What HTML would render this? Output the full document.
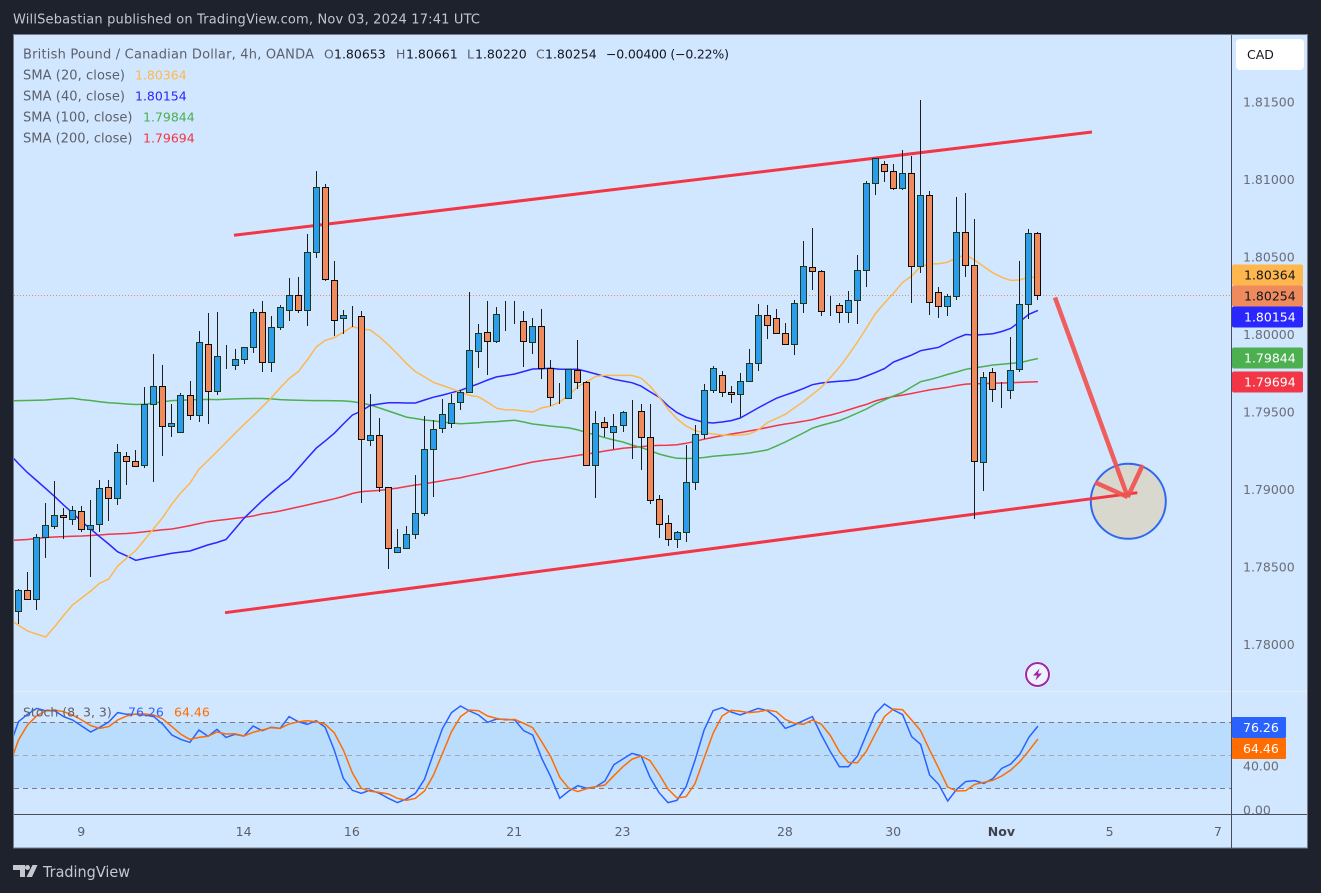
<!DOCTYPE html>
<html lang="en">
<head>
<meta charset="utf-8">
<title>GBP/CAD 4h chart</title>
<style>
html,body{margin:0;padding:0;background:#1e222d;width:1321px;height:893px;overflow:hidden}
svg{display:block}
text{font-family:"DejaVu Sans","Liberation Sans",sans-serif;font-size:12.5px}
</style>
</head>
<body>
<svg id="chart" xmlns="http://www.w3.org/2000/svg" width="1321" height="893" viewBox="0 0 1321 893">
  <defs>
    <clipPath id="price-clip"><rect x="14" y="36" width="1217" height="655"/></clipPath>
    <clipPath id="stoch-clip"><rect x="14" y="692" width="1217" height="122"/></clipPath>
    <clipPath id="scale-clip"><rect x="1232" y="692" width="76" height="122"/></clipPath>
  </defs>
  <rect x="0" y="0" width="1321" height="893" fill="#1e222d"/>
  <text x="13" y="23.5" fill="#c3c6cf" textLength="467" style="font-size:13px">WillSebastian published on TradingView.com, Nov 03, 2024 17:41 UTC</text>
  <rect x="13.5" y="34.5" width="1294" height="813.5" fill="#d1e7ff" stroke="#787b86" stroke-width="1"/>
  <rect x="14" y="722" width="1217" height="66" fill="#bbddfd"/>
  <line x1="14" y1="691.5" x2="1307" y2="691.5" stroke="#e6eef6" stroke-width="1"/>

  <g id="drawing-shapes">
    <circle cx="1128.3" cy="501.3" r="37.5" fill="#d9d8cf" stroke="#2f66f2" stroke-width="2"/>
  </g>
  <g id="ma-layer" clip-path="url(#price-clip)"></g>
  <line x1="14" y1="295.5" x2="1231" y2="295.5" stroke="#ef8a5e" stroke-width="1" stroke-dasharray="1 2"/>
  <line x1="234" y1="235.3" x2="1092" y2="132" stroke="#f23645" stroke-width="3"/>
  <line x1="225" y1="612.7" x2="1137.3" y2="492.7" stroke="#f23645" stroke-width="3"/>
  <g id="candle-layer" clip-path="url(#price-clip)"></g>
  <g stroke="#ef5350" stroke-width="4.5" fill="none" stroke-opacity="0.93">
    <line x1="1055" y1="297.5" x2="1127.7" y2="497"/>
    <line x1="1127.7" y1="497" x2="1142.7" y2="465"/>
    <line x1="1127.7" y1="497" x2="1095" y2="482.3"/>
  </g>

  <g>
    <line id="lvl80" x1="14" x2="1231" stroke="#787b86" stroke-dasharray="5 4"/>
    <line id="lvl50" x1="14" x2="1231" stroke="#a4a8b3" stroke-dasharray="5 4"/>
    <line id="lvl20" x1="14" x2="1231" stroke="#787b86" stroke-dasharray="5 4"/>
  </g>
  <g id="stoch-layer" clip-path="url(#stoch-clip)"></g>

  <line x1="1231.5" y1="35" x2="1231.5" y2="848" stroke="#4a4e5a" stroke-width="1"/>
  <line x1="14" y1="814.5" x2="1307" y2="814.5" stroke="#4a4e5a" stroke-width="1"/>

  <g>
    <text x="23" y="58.5" fill="#5d606b" textLength="291" style="font-size:13px">British Pound / Canadian Dollar, 4h, OANDA</text>
    <text x="324" y="58.5" fill="#5d606b">O</text>
    <text x="334" y="58.5" fill="#131722">1.80653</text>
    <text x="396" y="58.5" fill="#5d606b">H</text>
    <text x="406" y="58.5" fill="#131722">1.80661</text>
    <text x="467" y="58.5" fill="#5d606b">L</text>
    <text x="475" y="58.5" fill="#131722">1.80220</text>
    <text x="536" y="58.5" fill="#5d606b">C</text>
    <text x="545" y="58.5" fill="#131722">1.80254</text>
    <text x="606" y="58.5" fill="#131722" textLength="123">−0.00400 (−0.22%)</text>

    <text x="23" y="79.5" fill="#5d606b" textLength="102" style="font-size:13px">SMA (20, close)</text>
    <text x="135" y="79.5" fill="#ffb74d">1.80364</text>
    <text x="23" y="100.5" fill="#5d606b" textLength="102" style="font-size:13px">SMA (40, close)</text>
    <text x="135" y="100.5" fill="#2a26ff">1.80154</text>
    <text x="23" y="121.5" fill="#5d606b" textLength="109.5" style="font-size:13px">SMA (100, close)</text>
    <text x="143" y="121.5" fill="#4caf50">1.79844</text>
    <text x="23" y="142.5" fill="#5d606b" textLength="109.5" style="font-size:13px">SMA (200, close)</text>
    <text x="143" y="142.5" fill="#f23645">1.79694</text>

    <text x="23" y="716.5" fill="#5d606b">Stoch (8, 3, 3)</text>
    <text x="128" y="716.5" fill="#2962ff">76.26</text>
    <text x="174" y="716.5" fill="#ff6d00">64.46</text>
  </g>

  <g>
    <rect x="1236" y="39" width="68" height="31" rx="4" fill="#ffffff"/>
    <text x="1247" y="59" fill="#131722">CAD</text>
  </g>

  <g id="price-axis"></g>
  <g id="price-tags"></g>
  <g id="stoch-axis" clip-path="url(#scale-clip)"></g>
  <g id="stoch-tags"></g>
  <g id="time-axis"></g>

  <g>
    <circle cx="1037.5" cy="674.5" r="13" fill="#ffffff"/>
    <circle cx="1037.5" cy="674.5" r="11.5" fill="#eef3fb" stroke="#9c27b0" stroke-width="2"/>
    <polygon points="1039.5,668.5 1033,675.5 1037,675.5 1035.5,680.5 1042,673.5 1038,673.5" fill="#9c27b0"/>
  </g>

  <g>
    <polygon points="13,865 25,865 25,877 20,877 20,870 13,870" fill="#c5c8d0"/>
    <circle cx="27.5" cy="867.5" r="2.5" fill="#c5c8d0"/>
    <polygon points="32.5,865 37.5,865 32,877 26.5,877" fill="#c5c8d0"/>
    <text x="43" y="877" fill="#c5c8d0" textLength="87" lengthAdjust="spacingAndGlyphs" style="font-size:15.5px">TradingView</text>
  </g>
</svg>

<script>
const opens = [1.78213,1.78348,1.78290,1.78690,1.78761,1.78832,1.78806,1.78858,1.78742,1.78774,1.79013,1.78942,1.79213,1.79181,1.79155,1.79548,1.79665,1.79406,1.79368,1.79606,1.79477,1.79935,1.79632,1.79858,1.79800,1.79839,1.79916,1.80142,1.79819,1.80045,1.80155,1.80255,1.80155,1.80529,1.80948,1.80348,1.80103,1.80126,1.80116,1.79316,1.79348,1.79013,1.78594,1.78619,1.78710,1.78845,1.79258,1.79394,1.79426,1.79561,1.79626,1.79890,1.80013,1.79955,1.80084,1.80084,1.80084,1.79948,1.80052,1.79781,1.79587,1.79587,1.79768,1.79690,1.79155,1.79432,1.79368,1.79413,1.79503,1.79503,1.79335,1.78935,1.78781,1.78677,1.78723,1.79045,1.79355,1.79639,1.79735,1.79626,1.79613,1.79697,1.79813,1.80123,1.80103,1.80006,1.79935,1.80200,1.80432,1.80406,1.80194,1.80187,1.80142,1.80219,1.80413,1.80974,1.81097,1.81052,1.80942,1.81039,1.80439,1.80897,1.80271,1.80181,1.80245,1.80658,1.80445,1.79174,1.79755,1.79639,1.79639,1.79774,1.80194,1.80653];
const highs = [1.78355,1.78466,1.78712,1.78912,1.79054,1.78879,1.78892,1.78892,1.78931,1.79060,1.79060,1.79292,1.79241,1.79254,1.79660,1.79873,1.79802,1.79550,1.79619,1.79699,1.80019,1.80135,1.80142,1.79929,1.79903,1.79916,1.80161,1.80215,1.80118,1.80187,1.80363,1.80370,1.80647,1.81054,1.80970,1.80471,1.80157,1.80183,1.80148,1.79613,1.79458,1.79013,1.78744,1.78761,1.79090,1.79471,1.79445,1.79581,1.79615,1.79639,1.80271,1.80065,1.80213,1.80174,1.80213,1.80213,1.80148,1.80103,1.80161,1.79832,1.79684,1.79774,1.79961,1.79697,1.79503,1.79465,1.79484,1.79503,1.79574,1.79548,1.79548,1.78961,1.78832,1.78729,1.79284,1.79413,1.79677,1.79794,1.79763,1.79666,1.79748,1.79903,1.80194,1.80187,1.80161,1.80071,1.80219,1.80600,1.80686,1.80415,1.80245,1.80200,1.80279,1.80510,1.80989,1.81135,1.81118,1.81097,1.81187,1.81152,1.81512,1.80923,1.80303,1.80258,1.80884,1.80910,1.80742,1.79755,1.79781,1.79690,1.79983,1.80471,1.80677,1.80661];
const lows = [1.78131,1.78290,1.78221,1.78559,1.78746,1.78681,1.78772,1.78726,1.78436,1.78726,1.78797,1.78899,1.79028,1.79148,1.79139,1.79049,1.79215,1.79337,1.79368,1.79447,1.79436,1.79423,1.79606,1.79776,1.79770,1.79808,1.79879,1.79757,1.79757,1.80028,1.80086,1.80139,1.80054,1.80492,1.80346,1.79989,1.80002,1.80049,1.78910,1.79281,1.78981,1.78484,1.78594,1.78613,1.78677,1.78826,1.78948,1.79361,1.79394,1.79514,1.79619,1.79781,1.79739,1.79942,1.80023,1.80065,1.79791,1.79871,1.79714,1.79539,1.79552,1.79581,1.79645,1.79155,1.78946,1.79335,1.79258,1.79370,1.79197,1.79125,1.78907,1.78686,1.78636,1.78623,1.78658,1.78997,1.79325,1.79619,1.79597,1.79559,1.79465,1.79690,1.79765,1.79970,1.80006,1.79935,1.79866,1.80137,1.80288,1.80120,1.80118,1.80075,1.80075,1.80068,1.80307,1.80899,1.80983,1.80929,1.80929,1.80204,1.80394,1.80126,1.80103,1.80120,1.80223,1.80372,1.78806,1.78991,1.79565,1.79526,1.79585,1.79755,1.80097,1.80220];
const closes = [1.78348,1.78290,1.78690,1.78768,1.78832,1.78819,1.78865,1.78742,1.78768,1.79006,1.78942,1.79239,1.79181,1.79148,1.79548,1.79665,1.79406,1.79426,1.79606,1.79477,1.79948,1.79632,1.79858,1.79858,1.79839,1.79916,1.80142,1.79819,1.80045,1.80174,1.80255,1.80155,1.80529,1.80948,1.80355,1.80090,1.80123,1.80126,1.79323,1.79348,1.79013,1.78619,1.78626,1.78710,1.78845,1.79258,1.79387,1.79484,1.79555,1.79626,1.79897,1.80006,1.79955,1.80129,1.80084,1.80084,1.79955,1.80052,1.79781,1.79594,1.79587,1.79774,1.79690,1.79155,1.79426,1.79400,1.79406,1.79497,1.79503,1.79335,1.78929,1.78774,1.78677,1.78723,1.79045,1.79355,1.79639,1.79781,1.79626,1.79613,1.79697,1.79813,1.80123,1.80058,1.80006,1.79935,1.80200,1.80439,1.80406,1.80148,1.80194,1.80142,1.80219,1.80413,1.80974,1.81135,1.81052,1.80942,1.81039,1.80439,1.80897,1.80206,1.80181,1.80245,1.80658,1.80445,1.79181,1.79723,1.79645,1.79639,1.79768,1.80194,1.80652,1.80254];

/* moving averages: first value belongs to the bar just before the left edge */
const sma20 = [1.78160,1.78123,1.78086,1.78066,1.78047,1.78112,1.78186,1.78254,1.78299,1.78344,1.78394,1.78421,1.78505,1.78557,1.78606,1.78676,1.78748,1.78819,1.78905,1.78978,1.79039,1.79129,1.79186,1.79243,1.79302,1.79361,1.79418,1.79473,1.79531,1.79589,1.79654,1.79715,1.79759,1.79834,1.79918,1.79961,1.79978,1.80013,1.80050,1.80034,1.80028,1.79983,1.79931,1.79873,1.79812,1.79760,1.79725,1.79690,1.79670,1.79649,1.79628,1.79606,1.79597,1.79561,1.79523,1.79512,1.79512,1.79505,1.79499,1.79525,1.79537,1.79563,1.79608,1.79662,1.79694,1.79729,1.79735,1.79735,1.79735,1.79735,1.79718,1.79666,1.79597,1.79518,1.79454,1.79408,1.79378,1.79366,1.79357,1.79350,1.79348,1.79350,1.79357,1.79383,1.79430,1.79457,1.79484,1.79525,1.79565,1.79612,1.79658,1.79721,1.79787,1.79866,1.79950,1.80041,1.80134,1.80202,1.80265,1.80335,1.80376,1.80436,1.80454,1.80455,1.80465,1.80494,1.80512,1.80479,1.80437,1.80397,1.80368,1.80348,1.80350,1.80370,1.80364];
const sma40 = [1.79228,1.79166,1.79108,1.79057,1.79006,1.78954,1.78899,1.78847,1.78791,1.78744,1.78694,1.78647,1.78597,1.78570,1.78542,1.78554,1.78565,1.78576,1.78587,1.78595,1.78602,1.78621,1.78641,1.78657,1.78676,1.78744,1.78813,1.78870,1.78926,1.78976,1.79025,1.79068,1.79134,1.79200,1.79265,1.79312,1.79361,1.79421,1.79479,1.79505,1.79541,1.79550,1.79559,1.79558,1.79557,1.79557,1.79576,1.79594,1.79608,1.79623,1.79639,1.79660,1.79681,1.79705,1.79725,1.79734,1.79744,1.79760,1.79776,1.79778,1.79781,1.79774,1.79774,1.79774,1.79760,1.79744,1.79728,1.79710,1.79699,1.79688,1.79666,1.79630,1.79595,1.79539,1.79495,1.79465,1.79447,1.79432,1.79428,1.79434,1.79443,1.79460,1.79492,1.79525,1.79557,1.79587,1.79608,1.79628,1.79650,1.79675,1.79686,1.79692,1.79697,1.79701,1.79710,1.79731,1.79754,1.79779,1.79821,1.79844,1.79866,1.79894,1.79905,1.79916,1.79947,1.79976,1.79999,1.79995,1.79999,1.80004,1.80018,1.80039,1.80081,1.80129,1.80154];
const sma100 = [1.79571,1.79572,1.79573,1.79574,1.79576,1.79581,1.79584,1.79587,1.79579,1.79573,1.79565,1.79559,1.79555,1.79550,1.79547,1.79549,1.79557,1.79565,1.79572,1.79575,1.79577,1.79579,1.79580,1.79579,1.79581,1.79583,1.79585,1.79586,1.79586,1.79583,1.79579,1.79576,1.79574,1.79573,1.79572,1.79572,1.79571,1.79570,1.79566,1.79557,1.79544,1.79525,1.79505,1.79486,1.79466,1.79457,1.79447,1.79441,1.79434,1.79428,1.79423,1.79426,1.79429,1.79434,1.79437,1.79441,1.79445,1.79434,1.79421,1.79415,1.79408,1.79402,1.79396,1.79383,1.79365,1.79350,1.79333,1.79318,1.79305,1.79286,1.79270,1.79250,1.79228,1.79212,1.79200,1.79199,1.79200,1.79205,1.79213,1.79218,1.79223,1.79228,1.79234,1.79244,1.79254,1.79279,1.79305,1.79334,1.79363,1.79394,1.79412,1.79428,1.79443,1.79466,1.79492,1.79518,1.79550,1.79576,1.79602,1.79625,1.79660,1.79694,1.79708,1.79723,1.79741,1.79757,1.79774,1.79783,1.79792,1.79802,1.79807,1.79812,1.79817,1.79831,1.79844];
const sma200 = [1.78670,1.78673,1.78676,1.78683,1.78689,1.78692,1.78695,1.78697,1.78699,1.78702,1.78705,1.78710,1.78712,1.78715,1.78720,1.78726,1.78733,1.78739,1.78744,1.78754,1.78766,1.78779,1.78791,1.78799,1.78805,1.78812,1.78819,1.78828,1.78841,1.78850,1.78860,1.78873,1.78886,1.78899,1.78912,1.78925,1.78939,1.78954,1.78973,1.78985,1.78989,1.78993,1.79000,1.79008,1.79018,1.79028,1.79035,1.79045,1.79055,1.79066,1.79075,1.79088,1.79100,1.79112,1.79125,1.79137,1.79150,1.79163,1.79176,1.79185,1.79193,1.79200,1.79210,1.79219,1.79228,1.79237,1.79247,1.79256,1.79265,1.79270,1.79275,1.79281,1.79283,1.79284,1.79287,1.79297,1.79310,1.79323,1.79335,1.79346,1.79357,1.79366,1.79376,1.79387,1.79399,1.79411,1.79421,1.79430,1.79439,1.79450,1.79466,1.79479,1.79494,1.79512,1.79531,1.79548,1.79570,1.79586,1.79599,1.79608,1.79618,1.79630,1.79641,1.79650,1.79658,1.79670,1.79679,1.79681,1.79682,1.79684,1.79686,1.79688,1.79690,1.79692,1.79694];

/* stochastic: first value belongs to the bar just before the left edge */
const stochK = [57.6,80.3,87,92.4,90.3,90.3,84.9,81.8,76.4,70.9,75.2,80,88.5,87,87,86.4,84.9,77.9,68.2,64.2,61.5,72.7,67,73.3,66,68.8,67.3,76.4,72.1,75.2,74.2,84.9,80.3,77.9,81.2,75.2,54.6,28.8,17.9,15.2,18.2,15.2,10.6,6.7,10,15.2,27.9,51.5,74.2,88.5,94.5,90,86.4,79.7,82.7,82.4,81.8,72.1,68.2,47,30.3,10.6,17.3,22.1,19.7,21.2,26.4,41.2,46.4,51.5,49.4,29.7,15.8,6.7,8.8,21.2,45.5,72.7,90.3,93,89.1,86.4,89.4,92.4,90.3,84.2,74.2,77.3,81.2,84.9,68.2,53,39.4,39.4,49.1,68.8,87.9,96.4,90.9,86.7,66.7,59.7,31.8,23.3,8.2,18.8,25.8,26.7,24.2,28.5,37.9,41.8,50.6,66.1,76.26];
const stochD = [40.9,63.6,77.3,85.5,90.3,90.9,89.4,86.4,81.8,76.7,74.2,75.8,81.8,85.5,87.3,87.3,86.4,82.7,75.8,68.8,64.2,66,67,70.9,69.1,69.4,67.3,70.6,72.7,74.8,74.2,78.2,80.3,81.2,80.3,77.9,70.3,54.6,33.9,19.7,17,16,14.5,10.6,8.8,10.6,17.3,31.8,51.5,71.2,84.9,90.9,90.3,85.5,83.3,81.8,82.4,78.8,74.8,62.1,48.5,29.7,19.7,16.7,19.4,21.2,22.7,31.2,39.4,46.1,49.1,44.9,32.7,19.1,10.9,12.1,24.2,47,69.7,85.5,90.6,89.7,88.5,89.4,90.9,89.4,82.4,78.8,77.9,81.8,77.9,67.6,53,43.3,43,53.6,69.7,84.9,91.8,91.2,81.8,72.1,54.6,37.9,20.9,17.3,17.6,23.3,25.2,27,30.9,36.4,43.9,53.9,64.46];

const priceTicks = [1.815,1.81,1.805,1.8,1.795,1.79,1.785,1.78];
const stochTicks = [40,0];
const stochLevels = [80,50,20];
const timeLabels = ['9','14','16','21','23','28','30','Nov','5','7'];
const timeBars = [7,25,37,55,67,85,97,109,121,133];
const priceTagValues = [1.80364,1.80254,1.80154,1.79844,1.79694];
const stochTagValues = [76.26,64.46];

const NS = 'http://www.w3.org/2000/svg';
const xScale = i => 18.11 + 9.021 * i;
const xLine = i => xScale(i) + 0.4;
const xPixel = i => Math.round(xScale(i)) + 0.5;
const yPrice = p => 334.3 + (1.8 - p) * 15500;
const yStoch = v => 810 - 1.1 * v;

function make(tag, attrs, parent) {
  const el = document.createElementNS(NS, tag);
  for (const k in attrs) el.setAttribute(k, attrs[k]);
  parent.appendChild(el);
  return el;
}

const maLayer = document.getElementById('ma-layer');
function drawMa(values, color, name) {
  const pts = values.map((v, i) => xLine(i - 1).toFixed(1) + ',' + yPrice(v).toFixed(1)).join(' ');
  const line = make('polyline', {points: pts, fill: 'none', stroke: color, 'stroke-width': 1.5}, maLayer);
  
  
}
drawMa(sma200, '#f23645', 'sma-200-line');
drawMa(sma100, '#4caf50', 'sma-100-line');
drawMa(sma40, '#2a26ff', 'sma-40-line');
drawMa(sma20, '#ffb74d', 'sma-20-line');

const candleLayer = document.getElementById('candle-layer');
opens.forEach((o, i) => {
  const c = closes[i];
  const x = xPixel(i);
  const up = c >= o;
  const yHigh = Math.round(yPrice(highs[i]));
  const yLow = Math.round(yPrice(lows[i]));
  const yTop = Math.round(yPrice(Math.max(o, c))) + 0.5;
  const yBot = Math.round(yPrice(Math.min(o, c))) + 0.5;
  const wick = make('line', {x1: x, x2: x, y1: yHigh, y2: yLow, stroke: '#1d1f1f', 'stroke-width': 1, 'shape-rendering': 'crispEdges'}, candleLayer);
  
  
  const body = make('rect', {x: x - 3, y: yTop, width: 6, height: yBot - yTop, fill: up ? '#2e9cec' : '#ee8a5c', stroke: up ? '#1a3a1c' : '#0c0c0c', 'stroke-width': 1, 'shape-rendering': 'crispEdges'}, candleLayer);
  
  
});

['lvl80', 'lvl50', 'lvl20'].forEach((id, i) => {
  const el = document.getElementById(id);
  const y = Math.round(yStoch(stochLevels[i])) + 0.5;
  el.setAttribute('y1', y);
  el.setAttribute('y2', y);
});

const stochLayer = document.getElementById('stoch-layer');
function drawStoch(values, color, name) {
  const pts = values.map((v, i) => xLine(i - 1).toFixed(1) + ',' + yStoch(v).toFixed(1)).join(' ');
  const line = make('polyline', {points: pts, fill: 'none', stroke: color, 'stroke-width': 1.5}, stochLayer);
  
  
}
drawStoch(stochK, '#2962ff', 'stoch-k-line');
drawStoch(stochD, '#ff6d00', 'stoch-d-line');

const priceAxis = document.getElementById('price-axis');
priceTicks.forEach(p => {
  const t = make('text', {x: 1243, y: yPrice(p) + 4.5, fill: '#6a6d78'}, priceAxis);
  t.textContent = p.toFixed(5);
  
  
});

/* overlapping price tags are pushed apart, anchored on the last-price tag (index 1) */
const priceTags = document.getElementById('price-tags');
const tagFill = ['#ffb74d', '#ee8a5c', '#2a26ff', '#4caf50', '#f23645'];
const tagInk = ['#131722', '#131722', '#ffffff', '#ffffff', '#ffffff'];
const tagStep = 21;
const tagCentres = priceTagValues.map(yPrice);
tagCentres[1] += 0.8;
tagCentres[0] = Math.min(tagCentres[0], tagCentres[1] - tagStep);
for (let i = 2; i < tagCentres.length; i++) {
  tagCentres[i] = Math.max(tagCentres[i], tagCentres[i - 1] + tagStep);
}
priceTagValues.forEach((p, i) => {
  const y = Math.round(tagCentres[i]);
  const r = make('rect', {x: 1232, y: y - 10.5, width: 71, height: 21, rx: 2, fill: tagFill[i]}, priceTags);
  
  
  const t = make('text', {x: 1244, y: y + 4.5, fill: tagInk[i]}, priceTags);
  t.textContent = p.toFixed(5);
  
  
});

const stochAxis = document.getElementById('stoch-axis');
stochTicks.forEach(v => {
  const t = make('text', {x: 1243, y: yStoch(v) + 4.5, fill: '#6a6d78'}, stochAxis);
  t.textContent = v.toFixed(2);
  
  
});

const stochTags = document.getElementById('stoch-tags');
const stochTagFill = ['#2962ff', '#ff6d00'];
stochTagValues.forEach((v, i) => {
  const y = 727.5 + i * 21;
  const r = make('rect', {x: 1232, y: y - 10.5, width: 54, height: 21, rx: 1, fill: stochTagFill[i]}, stochTags);
  
  
  const t = make('text', {x: 1243, y: y + 4.5, fill: '#ffffff'}, stochTags);
  t.textContent = v.toFixed(2);
  
  
});

const timeAxis = document.getElementById('time-axis');
timeLabels.forEach((label, i) => {
  const t = make('text', {x: xScale(timeBars[i]), y: 836, fill: label === 'Nov' ? '#3f424c' : '#5d606b', 'text-anchor': 'middle', 'font-weight': label === 'Nov' ? '700' : '400'}, timeAxis);
  t.textContent = label;
  
  
});
</script>
</body>
</html>
